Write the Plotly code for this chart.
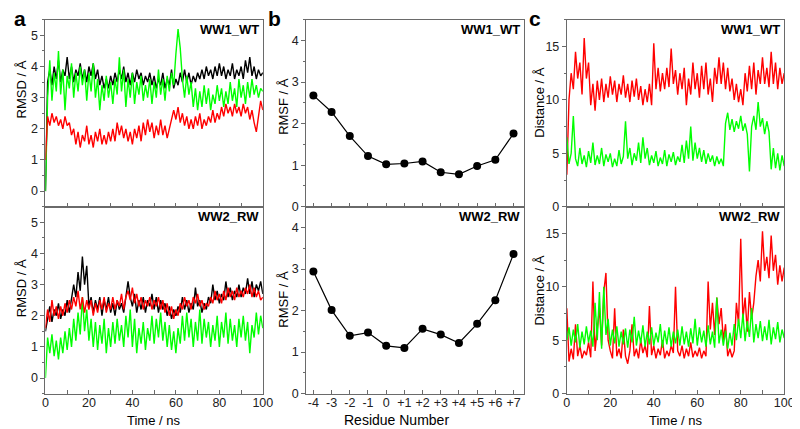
import plotly.graph_objects as go
from plotly.subplots import make_subplots

# time axis (ns), one sample per ns
time_ns = list(range(0, 101))

# panel a, WW1_WT RMSD (Å)
rmsd_wt_black = [0.0, 3.5, 3.9, 3.4, 4.0, 3.6, 4.2, 3.5, 3.9, 3.7, 4.3, 3.6, 4.0, 3.5, 3.9, 3.7, 4.1, 3.6, 3.9, 3.5,
                 4.0, 3.7, 4.1, 3.6, 3.9, 3.4, 3.7, 3.3, 3.6, 3.3, 3.7, 3.4, 3.8, 3.5, 3.9, 3.6, 4.0, 3.5, 3.8, 3.4,
                 3.8, 3.5, 3.9, 3.6, 3.8, 3.4, 3.7, 3.5, 3.8, 3.4, 3.7, 3.3, 3.6, 3.4, 3.8, 3.3, 3.6, 3.4, 3.9, 3.3,
                 3.6, 3.4, 3.8, 3.5, 3.9, 3.5, 3.8, 3.4, 3.7, 3.5, 3.8, 3.6, 3.9, 3.6, 4.0, 3.7, 3.9, 3.6, 4.0, 3.7,
                 4.1, 3.7, 4.0, 3.6, 3.9, 3.7, 4.1, 3.6, 3.9, 3.7, 4.0, 3.6, 4.2, 3.8, 4.3, 3.7, 4.0, 3.6, 3.9, 3.7, 3.8]
rmsd_wt_green = [0.0, 3.0, 4.2, 2.9, 3.8, 3.2, 4.5, 3.1, 3.9, 2.6, 3.7, 3.3, 4.1, 3.0, 3.8, 3.2, 4.0, 3.4, 3.9, 2.9,
                 3.8, 3.2, 4.1, 3.0, 3.6, 2.6, 3.4, 2.9, 3.7, 3.0, 3.5, 2.8, 3.6, 3.1, 4.3, 3.2, 3.9, 2.7, 3.6, 3.0,
                 3.8, 2.8, 3.5, 3.1, 3.7, 2.9, 3.4, 3.0, 3.6, 2.8, 3.5, 3.0, 3.9, 3.1, 3.6, 2.9, 3.7, 3.2, 3.8, 3.4,
                 4.4, 5.2, 4.6, 3.6, 3.0, 3.7, 3.1, 3.5, 2.7, 3.3, 2.6, 3.2, 2.7, 3.4, 2.8, 3.3, 2.6, 3.1, 2.8, 3.4,
                 2.9, 3.3, 2.7, 3.2, 2.8, 3.5, 2.9, 3.3, 2.7, 3.6, 3.0, 3.4, 2.8, 3.5, 3.0, 3.6, 3.1, 3.4, 3.0, 3.3, 3.2]
rmsd_wt_red = [1.0, 2.4, 2.1, 2.5, 2.2, 2.4, 2.1, 2.3, 2.0, 2.4, 2.1, 2.2, 1.8, 2.0, 1.5, 1.9, 1.4, 1.8, 1.6, 2.1,
               1.5, 1.8, 1.4, 1.9, 1.6, 2.0, 1.5, 1.8, 1.5, 1.9, 1.6, 2.0, 1.6, 2.2, 1.8, 2.1, 1.7, 2.0, 1.6, 1.9,
               1.5, 2.0, 1.7, 2.1, 1.6, 2.2, 1.8, 2.3, 1.9, 2.2, 1.7, 2.1, 1.8, 2.3, 1.8, 2.1, 1.7, 2.0, 2.2, 2.6,
               2.3, 2.7, 2.2, 2.5, 2.1, 2.4, 2.0, 2.3, 2.0, 2.4, 2.1, 2.5, 2.0, 2.3, 2.1, 2.4, 2.2, 2.6, 2.2, 2.5,
               2.3, 2.7, 2.4, 2.8, 2.5, 2.7, 2.4, 2.8, 2.5, 2.7, 2.4, 2.8, 2.5, 2.7, 2.3, 2.6, 2.2, 1.9, 2.4, 2.9, 2.6]

# panel a, WW2_RW RMSD (Å)
rmsd_rw_black = [1.5, 1.9, 2.3, 1.8, 2.2, 2.0, 2.4, 1.9, 2.2, 2.0, 2.5, 2.1, 2.6, 3.0, 2.6, 3.4, 2.8, 3.9, 3.0, 3.6,
                 2.3, 2.6, 2.1, 2.5, 2.2, 2.6, 2.0, 2.5, 2.2, 2.6, 2.1, 2.4, 2.0, 2.5, 2.2, 2.4, 2.1, 2.7, 3.1, 2.6,
                 2.3, 2.7, 2.1, 2.5, 2.2, 2.6, 2.1, 2.5, 2.3, 2.7, 2.2, 2.6, 2.1, 2.5, 2.2, 2.4, 2.0, 2.3, 1.9, 2.2,
                 2.0, 2.3, 2.1, 2.6, 2.2, 2.5, 2.1, 2.4, 2.2, 2.9, 2.3, 2.5, 2.1, 2.4, 2.2, 2.6, 2.4, 3.0, 2.5, 2.8,
                 2.4, 2.7, 2.5, 3.1, 2.6, 2.9, 2.5, 2.8, 2.6, 3.0, 2.6, 2.9, 2.7, 3.2, 2.7, 3.1, 2.6, 3.0, 2.8, 3.1, 2.7]
rmsd_rw_green = [0.0, 1.3, 0.8, 1.4, 0.7, 1.2, 0.6, 1.3, 0.8, 1.5, 0.9, 1.6, 1.0, 1.9, 1.2, 2.1, 1.4, 2.6, 1.5, 2.2,
                 1.2, 1.9, 1.0, 1.8, 0.9, 1.7, 1.1, 1.9, 0.8, 1.6, 1.0, 1.8, 1.1, 1.9, 1.2, 1.7, 1.0, 2.0, 1.3, 2.2,
                 1.0, 1.9, 0.8, 1.6, 1.1, 1.8, 0.9, 1.6, 1.2, 2.0, 1.1, 1.9, 1.3, 2.1, 1.2, 1.8, 1.0, 1.7, 0.9, 1.5,
                 0.8, 1.6, 1.1, 2.0, 1.2, 2.1, 1.3, 1.9, 1.0, 1.8, 1.2, 2.2, 1.1, 1.9, 1.3, 1.8, 1.0, 1.7, 1.2, 2.0,
                 1.0, 1.8, 1.3, 2.1, 1.1, 1.9, 1.2, 1.7, 1.0, 1.9, 1.3, 2.0, 1.2, 1.8, 0.8, 1.7, 1.3, 2.1, 1.4, 2.0, 1.6]
rmsd_rw_red = [1.6, 2.2, 1.8, 2.5, 2.0, 2.3, 1.9, 2.3, 2.0, 2.4, 2.1, 2.5, 2.2, 2.6, 2.3, 2.8, 2.2, 2.6, 2.1, 2.5,
               2.2, 2.5, 2.0, 2.4, 2.1, 2.5, 2.2, 2.6, 2.1, 2.4, 2.2, 2.6, 2.2, 2.5, 2.3, 2.7, 2.2, 2.6, 2.8, 2.5,
               2.9, 2.4, 2.7, 2.3, 2.6, 2.2, 2.5, 2.3, 2.6, 2.2, 2.5, 2.3, 2.6, 2.2, 2.5, 2.1, 2.4, 2.0, 2.3, 1.9,
               2.2, 2.0, 2.4, 2.2, 2.6, 2.3, 2.5, 2.2, 2.6, 2.4, 2.7, 2.3, 2.5, 2.2, 2.4, 2.3, 2.6, 2.4, 2.8, 2.5,
               2.7, 2.4, 2.8, 2.5, 2.9, 2.6, 2.8, 2.5, 2.9, 2.6, 2.8, 2.6, 2.9, 2.7, 3.0, 2.6, 2.9, 2.6, 2.8, 2.5, 2.6]

# panel b, RMSF per residue (Å)
residues = [-4, -3, -2, -1, 0, 1, 2, 3, 4, 5, 6, 7]
residue_labels = ["-4", "-3", "-2", "-1", "0", "+1", "+2", "+3", "+4", "+5", "+6", "+7"]
rmsf_wt = [2.68, 2.28, 1.70, 1.22, 1.02, 1.04, 1.09, 0.83, 0.78, 0.98, 1.13, 1.76]
rmsf_rw = [2.94, 2.01, 1.39, 1.47, 1.15, 1.10, 1.56, 1.42, 1.22, 1.68, 2.25, 3.36]

# panel c, WW1_WT distances (Å)
dist_wt_red = [3.0, 10.0, 12.5, 11.0, 14.5, 12.0, 13.5, 10.5, 15.8, 12.0, 13.5, 9.5, 11.5, 9.0, 11.8, 10.0, 12.0, 9.8, 11.5, 10.2,
               12.2, 10.5, 11.8, 9.8, 11.5, 10.5, 12.3, 10.2, 11.5, 9.8, 11.8, 10.3, 12.0, 10.0, 11.3, 9.5, 11.0, 9.8, 11.5, 9.5,
               15.3, 11.0, 13.0, 10.8, 12.5, 11.0, 13.0, 11.2, 14.8, 11.5, 12.8, 10.5, 12.5, 11.0, 13.0, 9.5, 12.0, 10.5, 13.5, 11.0,
               12.5, 10.2, 13.2, 11.0, 13.5, 10.5, 12.0, 9.8, 13.0, 11.5, 14.0, 11.5, 13.5, 11.0, 13.0, 10.8, 12.0, 10.0, 11.5, 9.8,
               11.0, 9.5, 12.5, 10.8, 13.2, 11.0, 13.5, 10.5, 12.8, 11.5, 14.0, 11.5, 13.0, 11.2, 14.5, 11.5, 13.5, 11.0, 13.0, 11.5, 12.5]
dist_wt_green = [6.5, 4.0, 5.0, 8.5, 4.5, 3.8, 5.5, 4.0, 4.8, 3.7, 5.2, 4.1, 6.0, 3.9, 4.8, 4.0, 5.5, 3.8, 4.9, 4.2,
                 5.0, 3.7, 4.5, 3.8, 5.3, 4.0, 4.7, 8.0, 4.5, 5.5, 3.9, 5.0, 4.3, 6.0, 4.1, 6.5, 4.5, 5.5, 3.9, 4.8,
                 4.1, 5.2, 3.8, 4.6, 4.0, 5.3, 3.8, 4.9, 4.2, 5.1, 3.9, 4.7, 4.2, 5.8, 4.1, 6.2, 4.5, 7.5, 4.3, 6.0,
                 4.5, 5.5, 4.2, 5.3, 4.0, 5.0, 4.2, 4.8, 3.8, 4.7, 4.0, 4.5, 3.8, 7.8, 8.8, 7.2, 8.2, 7.0, 8.0, 7.3,
                 8.5, 7.1, 7.8, 6.8, 3.3, 7.5, 8.5, 7.2, 9.8, 7.5, 8.3, 6.8, 8.0, 7.0, 3.5, 5.5, 3.6, 5.0, 3.4, 4.8, 3.8]

# panel c, WW2_RW distances (Å)
dist_rw_red = [8.0, 3.0, 4.2, 3.2, 6.5, 3.5, 4.5, 3.3, 4.0, 3.6, 4.8, 3.4, 10.5, 4.0, 6.0, 8.0, 4.5, 9.5, 11.3, 5.0,
               4.0, 3.3, 8.0, 3.5, 4.2, 3.3, 6.0, 3.5, 2.8, 4.0, 6.5, 3.5, 4.2, 3.3, 5.0, 3.8, 4.5, 3.4, 8.2, 3.6,
               4.5, 3.3, 4.2, 3.6, 5.0, 3.3, 4.0, 3.5, 4.5, 3.8, 10.0, 4.0, 3.5, 4.5, 3.3, 4.2, 3.5, 4.8, 3.4, 4.0,
               3.5, 4.3, 3.3, 4.0, 3.5, 10.5, 6.0, 8.5, 5.5, 9.0, 6.5, 8.0, 5.0, 6.5, 3.5, 4.2, 3.4, 4.0, 8.5, 6.5,
               14.5, 7.0, 9.0, 5.8, 9.5, 7.0, 8.5, 11.0, 12.5, 10.5, 15.2, 11.5, 12.8, 10.8, 14.8, 11.5, 13.0, 10.2, 12.0, 10.5, 11.8]
dist_rw_green = [5.0, 6.2, 4.5, 6.0, 4.8, 6.5, 4.3, 5.8, 4.6, 6.3, 4.8, 5.9, 4.4, 8.5, 5.0, 9.5, 4.2, 10.0, 5.5, 7.0,
                 4.5, 6.0, 4.7, 6.3, 4.4, 5.8, 4.6, 6.1, 4.3, 6.0, 4.8, 7.2, 4.5, 5.9, 4.7, 6.4, 4.4, 5.8, 4.6, 6.2,
                 4.5, 5.7, 4.8, 6.5, 4.3, 5.9, 4.6, 6.2, 4.4, 5.8, 4.7, 6.0, 4.5, 6.3, 4.6, 5.8, 4.4, 6.1, 4.7, 7.0,
                 4.5, 6.2, 4.8, 5.9, 4.4, 6.4, 4.6, 5.8, 4.3, 9.0, 4.7, 6.0, 4.5, 5.9, 4.2, 5.7, 4.5, 6.5, 5.0, 7.0,
                 5.2, 7.5, 4.9, 6.8, 5.3, 8.0, 4.8, 6.5, 5.2, 6.8, 4.9, 6.3, 5.0, 6.9, 4.6, 6.2, 5.1, 6.7, 4.8, 6.0, 5.2]

BLACK = "#000000"
RED = "#ff0000"
GREEN = "#00ff00"
FONT = "Liberation Sans, Arial, sans-serif"
AXIS = "#6a6a6a"

fig = make_subplots(rows=2, cols=3)


def trace(x, y, color, row, col):
    fig.add_trace(go.Scatter(x=x, y=y, mode="lines", line=dict(color=color, width=1.4),
                             showlegend=False, hoverinfo="skip"), row=row, col=col)


trace(time_ns, rmsd_wt_black, BLACK, 1, 1)
trace(time_ns, rmsd_wt_green, GREEN, 1, 1)
trace(time_ns, rmsd_wt_red, RED, 1, 1)
trace(time_ns, rmsd_rw_black, BLACK, 2, 1)
trace(time_ns, rmsd_rw_green, GREEN, 2, 1)
trace(time_ns, rmsd_rw_red, RED, 2, 1)

for vals, row in [(rmsf_wt, 1), (rmsf_rw, 2)]:
    fig.add_trace(go.Scatter(x=residues, y=vals, mode="lines+markers",
                             line=dict(color=BLACK, width=1.2),
                             marker=dict(color=BLACK, size=8),
                             showlegend=False), row=row, col=2)

trace(time_ns, dist_wt_red, RED, 1, 3)
trace(time_ns, dist_wt_green, GREEN, 1, 3)
trace(time_ns, dist_rw_red, RED, 2, 3)
trace(time_ns, dist_rw_green, GREEN, 2, 3)

W, H = 800, 429
xdom = [[35 / W, 256 / W], [300 / W, 521 / W], [565 / W, 786 / W]]
ydom = [[1 - 202 / H, 1 - 12 / H], [1 - 392 / H, 1 - 202 / H]]

common_x = dict(showline=True, linecolor=AXIS, linewidth=1, mirror=True, showgrid=False,
                zeroline=False, ticks="inside", ticklen=4, tickcolor=AXIS, ticklabelstandoff=-3,
                tickfont=dict(family=FONT, size=12.5, color="#222"))
common_y = dict(showline=True, linecolor=AXIS, linewidth=1, mirror=True, showgrid=False,
                zeroline=False, ticks="outside", ticklen=4, tickcolor=AXIS,
                tickfont=dict(family=FONT, size=12.5, color="#222"))

for r in range(2):
    for c in range(3):
        xa = dict(common_x, domain=xdom[c])
        ya = dict(common_y, domain=ydom[r])
        if c == 1:
            xa.update(range=[-4.4, 7.55], tickvals=residues, ticktext=residue_labels)
            ya.update(range=[0, 4.5], dtick=1, minor=dict(dtick=0.5, ticks="outside", ticklen=2, tickcolor=AXIS))
        else:
            xa.update(range=[0, 100], dtick=20,
                      minor=dict(dtick=10, ticks="inside", ticklen=4, tickcolor=AXIS))
            if c == 0:
                ya.update(range=[-0.5, 5.5], dtick=1,
                          minor=dict(dtick=0.5, ticks="outside", ticklen=2, tickcolor=AXIS))
            else:
                ya.update(range=[0, 17.5], dtick=5,
                          minor=dict(dtick=2.5, ticks="outside", ticklen=2, tickcolor=AXIS))
        if r == 0:
            xa.update(showticklabels=False)
        fig.update_xaxes(**xa, row=r + 1, col=c + 1)
        fig.update_yaxes(**ya, row=r + 1, col=c + 1)

annots = []


def note(text, x, y, size=13, bold=False, angle=0, xanchor="center"):
    if bold:
        text = f"<b>{text}</b>"
    annots.append(dict(text=text, x=x / W, y=1 - y / H, xref="paper", yref="paper",
                       showarrow=False, textangle=angle, xanchor=xanchor, yanchor="middle",
                       font=dict(family=FONT, size=size, color="#000")))


# panel letters
note("a", 9, 11, size=21, bold=True)
note("b", 268, 11, size=21, bold=True)
note("c", 533, 11, size=21, bold=True)
# system labels
for x in [254, 519, 784]:
    note("WW1_WT", x, 22, size=13, bold=True, xanchor="right")
    note("WW2_RW", x, 212, size=13, bold=True, xanchor="right")
# axis titles
note("RMSD / Å", 11, 83, angle=-90)
note("RMSD / Å", 11, 285, angle=-90)
note("RMSF / Å", 277, 100, angle=-90)
note("RMSF / Å", 277, 296, angle=-90)
note("Distance / Å", 537, 96, angle=-90)
note("Distance / Å", 537, 287, angle=-90)
note("Time / ns", 145, 419)
note("Residue Number", 392, 419, size=14)
note("Time / ns", 675, 419)

fig.update_layout(
    width=W, height=H,
    margin=dict(l=0, r=0, t=0, b=0),
    paper_bgcolor="white", plot_bgcolor="white",
    annotations=annots,
)

fig.write_html("out.html")
